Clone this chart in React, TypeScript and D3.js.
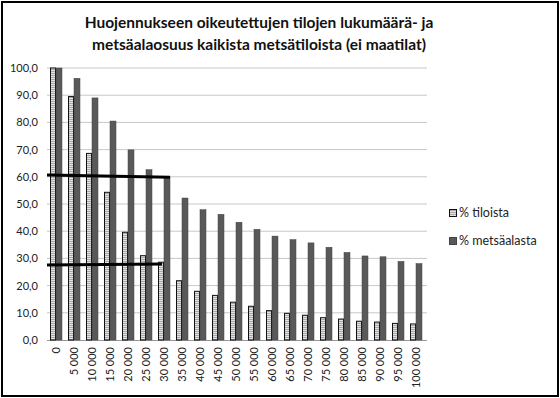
import React from 'react';
import * as d3 from 'd3';

// holding size classes (ha)
const categories = [
  '0', '5 000', '10 000', '15 000', '20 000', '25 000', '30 000', '35 000', '40 000', '45 000',
  '50 000', '55 000', '60 000', '65 000', '70 000', '75 000', '80 000', '85 000', '90 000', '95 000', '100 000',
];
const tiloista = [100, 89.5, 68.6, 54.3, 39.6, 31.0, 28.6, 21.8, 17.9, 16.4, 13.9, 12.4, 10.8, 9.8, 9.1, 8.2, 7.7, 6.9, 6.6, 6.1, 5.9];
const metsaalasta = [100, 96.2, 89.0, 80.5, 69.9, 62.6, 60.0, 52.2, 47.9, 46.2, 43.3, 40.7, 38.2, 36.9, 35.7, 34.1, 32.2, 30.9, 30.6, 28.9, 28.1];
const yTicks = [0, 10, 20, 30, 40, 50, 60, 70, 80, 90, 100];
const seriesNames = ['% tiloista', '% metsäalasta'];
const titleLines = ['Huojennukseen oikeutettujen tilojen lukumäärä- ja', 'metsäalaosuus kaikista metsätiloista (ei maatilat)'];
// hand-drawn marker lines: start value, end value, ending category
const markLines = [
  { from: 60.7, to: 59.8, endCat: '30 000', endPos: 0.67 },
  { from: 27.6, to: 27.9, endCat: '30 000', endPos: 0.22 },
];

const W = 560;
const H = 398;
const left = 47;
const right = 425;
const top = 68;
const bottom = 340;
const font = 'Lato, "Open Sans", sans-serif';

const App = () => {
  const x = d3.scaleBand<string>().domain(categories).range([left, right]).paddingInner(1 / 3).paddingOuter(1 / 6);
  const x1 = d3.scaleBand<number>().domain([0, 1]).range([0, x.bandwidth()]);
  const y = d3.scaleLinear().domain([0, 100]).range([bottom, top]);
  const fmt = (v: number) => v.toFixed(1).replace('.', ',');

  return (
    <svg width={W} height={H} style={{ position: 'absolute', left: 0, top: 0 }}>
      <defs>
        <pattern id="stripes" width="4" height="2" patternUnits="userSpaceOnUse">
          <rect width="4" height="2" fill="#a8a8a8" />
          <rect width="4" height="1" fill="#e2e2e2" />
        </pattern>
      </defs>
      <rect x={0} y={0} width={W} height={H} fill="#fff" />
      <rect x={2} y={2} width={W - 4} height={H - 4} fill="none" stroke="#000" strokeWidth={2} />

      {titleLines.map((t, i) => (
        <text key={t} x={259} y={28 + i * 22} textAnchor="middle" fontFamily={font} fontWeight={700}
          fontSize={15.5} fill="#111">{t}</text>
      ))}

      {yTicks.map(t => (
        <g key={t}>
          {t > 0 && <line x1={left} x2={right + 2} y1={y(t)} y2={y(t)} stroke="#c8c8c8" strokeWidth={1} />}
          <text x={38} y={y(t) + 4} textAnchor="end" fontFamily={font} fontSize={11} fill="#222">{fmt(t)}</text>
        </g>
      ))}
      <line x1={left} x2={right + 2} y1={bottom + 0.5} y2={bottom + 0.5} stroke="#999" strokeWidth={1} />

      {categories.map((c, i) => (
        <g key={c}>
          <rect x={x(c)! + x1(0)! + 0.5} y={y(tiloista[i])} width={x1.bandwidth() - 1}
            height={bottom - y(tiloista[i])} fill="url(#stripes)" stroke="#111" strokeWidth={1} />
          <rect x={x(c)! + x1(1)!} y={y(metsaalasta[i])} width={x1.bandwidth()}
            height={bottom - y(metsaalasta[i])} fill="#595959" stroke="#444" strokeWidth={0.5} />
          <text transform={`translate(${x(c)! + x.bandwidth() / 2},${bottom + 7}) rotate(-90)`}
            dy="0.35em" textAnchor="end" fontFamily={font} fontSize={11} fill="#222">{c}</text>
        </g>
      ))}

      {markLines.map((m, i) => (
        <line key={i} x1={left} y1={y(m.from)} x2={x(m.endCat)! + x.step() * m.endPos - x.step() * (1 / 6) + 3}
          y2={y(m.to)} stroke="#000" strokeWidth={3} />
      ))}

      {seriesNames.map((s, i) => (
        <g key={s} transform={`translate(449,${209 + i * 28})`}>
          <rect x={0.5} y={0.5} width={7} height={7} fill={i === 0 ? 'url(#stripes)' : '#595959'}
            stroke={i === 0 ? '#111' : '#444'} strokeWidth={1} />
          <text x={10} y={8} fontFamily={font} fontSize={12.5} fill="#222">{s}</text>
        </g>
      ))}
    </svg>
  );
};

export default App;
